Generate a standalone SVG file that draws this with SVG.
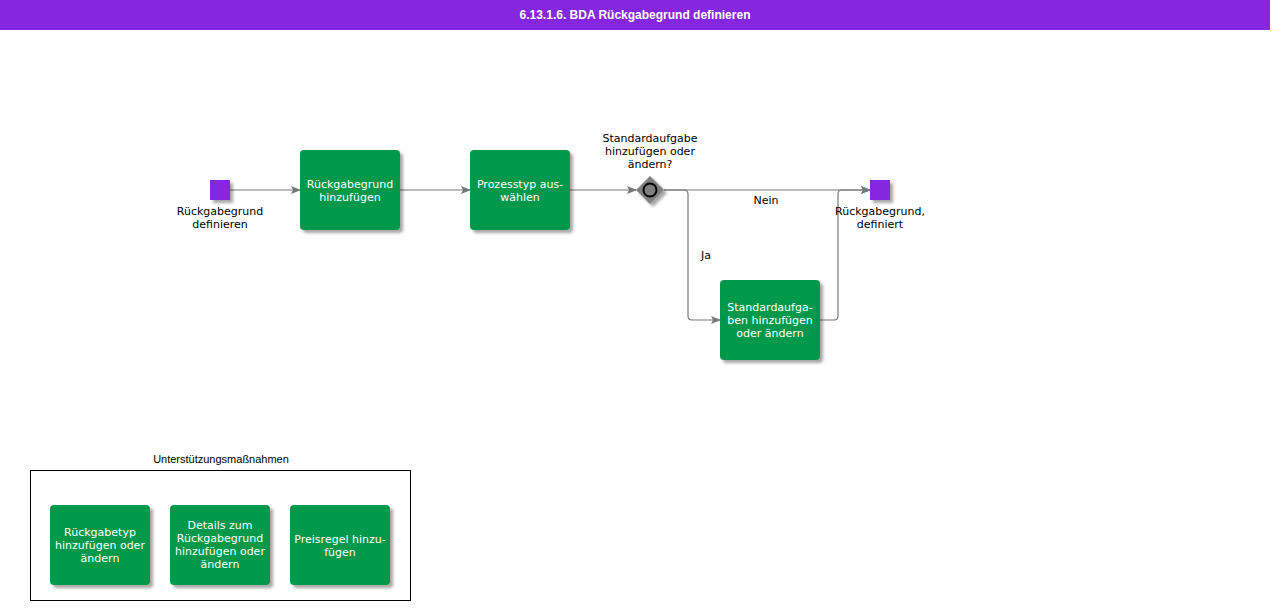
<svg xmlns="http://www.w3.org/2000/svg" width="1280" height="610" viewBox="0 0 1280 610">
<defs>
<filter id="sh" x="-20%" y="-20%" width="150%" height="150%">
<feGaussianBlur in="SourceAlpha" stdDeviation="1.5"/>
<feOffset dx="3" dy="3" result="b"/>
<feComponentTransfer><feFuncA type="linear" slope="0.35"/></feComponentTransfer>
<feMerge><feMergeNode/><feMergeNode in="SourceGraphic"/></feMerge>
</filter>
<marker id="arr" markerWidth="10" markerHeight="8" refX="9" refY="4" orient="auto" markerUnits="userSpaceOnUse">
<path d="M0,0 L10,4 L0,8 L2,4 Z" fill="#777"/>
</marker>
</defs>
<style>
.task{fill:#00994c;filter:url(#sh)}
.tt{font-family:"DejaVu Sans",Verdana,sans-serif;font-size:11px;fill:#fff;text-anchor:middle}
.lb{font-family:"DejaVu Sans",Verdana,sans-serif;font-size:11px;fill:#000;text-anchor:middle}
.ev{fill:#8526e0;filter:url(#sh)}
.cn{fill:none;stroke:#777;stroke-width:1.2}
</style>
<rect x="0" y="0" width="1270" height="30" fill="#8526e0"/>
<text x="635" y="19" font-family="'Liberation Sans',Arial,sans-serif" font-size="12" font-weight="bold" fill="#fff" text-anchor="middle">6.13.1.6. BDA Rückgabegrund definieren</text>

<g id="connectors">
<path class="cn" d="M230,190 H300" marker-end="url(#arr)"/>
<path class="cn" d="M400,190 H470" marker-end="url(#arr)"/>
<path class="cn" d="M570,190 H636" marker-end="url(#arr)"/>
<path class="cn" d="M664,190 H870" marker-end="url(#arr)"/>
<path class="cn" d="M664,190 H684 Q688,190 688,194 V316 Q688,320 692,320 H720" marker-end="url(#arr)"/>
<path class="cn" d="M820,320 H834 Q838,320 838,316 V194 Q838,190 842,190 H870" marker-end="url(#arr)"/>
<text class="lb" x="766" y="204">Nein</text>
<text class="lb" x="706" y="259">Ja</text>
</g>

<g id="start">
<rect class="ev" x="210" y="180" width="20" height="20"/>
<text class="lb" x="220" y="215">Rückgabegrund</text>
<text class="lb" x="220" y="228">definieren</text>
</g>
<g id="task1">
<rect class="task" x="300" y="150" width="100" height="80" rx="4"/>
<text class="tt" x="350" y="188">Rückgabegrund</text>
<text class="tt" x="350" y="201">hinzufügen</text>
</g>
<g id="task2">
<rect class="task" x="470" y="150" width="100" height="80" rx="4"/>
<text class="tt" x="520" y="188">Prozesstyp aus-</text>
<text class="tt" x="520" y="201">wählen</text>
</g>
<g id="gateway">
<path d="M650,176 L664,190 L650,204 L636,190 Z" fill="#808080" filter="url(#sh)"/>
<circle cx="650" cy="190" r="6.5" fill="none" stroke="#000" stroke-width="2"/>
<text class="lb" x="650" y="142">Standardaufgabe</text>
<text class="lb" x="650" y="155">hinzufügen oder</text>
<text class="lb" x="650" y="168">ändern?</text>
</g>
<g id="task3">
<rect class="task" x="720" y="280" width="100" height="80" rx="4"/>
<text class="tt" x="770" y="311">Standardaufga-</text>
<text class="tt" x="770" y="324">ben hinzufügen</text>
<text class="tt" x="770" y="337">oder ändern</text>
</g>
<g id="end">
<rect class="ev" x="870" y="180" width="20" height="20"/>
<text class="lb" x="880" y="215">Rückgabegrund,</text>
<text class="lb" x="880" y="228">definiert</text>
</g>

<g id="support">
<text x="221" y="463" font-family="'Liberation Sans',Arial,sans-serif" font-size="11" fill="#000" text-anchor="middle">Unterstützungsmaßnahmen</text>
<rect x="30.5" y="470.5" width="380" height="130" fill="none" stroke="#000" stroke-width="1"/>
</g>
<g id="s1">
<rect class="task" x="50" y="505" width="100" height="80" rx="4"/>
<text class="tt" x="100" y="536">Rückgabetyp</text>
<text class="tt" x="100" y="549">hinzufügen oder</text>
<text class="tt" x="100" y="562">ändern</text>
</g>
<g id="s2">
<rect class="task" x="170" y="505" width="100" height="80" rx="4"/>
<text class="tt" x="220" y="529">Details zum</text>
<text class="tt" x="220" y="542">Rückgabegrund</text>
<text class="tt" x="220" y="555">hinzufügen oder</text>
<text class="tt" x="220" y="568">ändern</text>
</g>
<g id="s3">
<rect class="task" x="290" y="505" width="100" height="80" rx="4"/>
<text class="tt" x="340" y="543">Preisregel hinzu-</text>
<text class="tt" x="340" y="556">fügen</text>
</g>
</svg>
